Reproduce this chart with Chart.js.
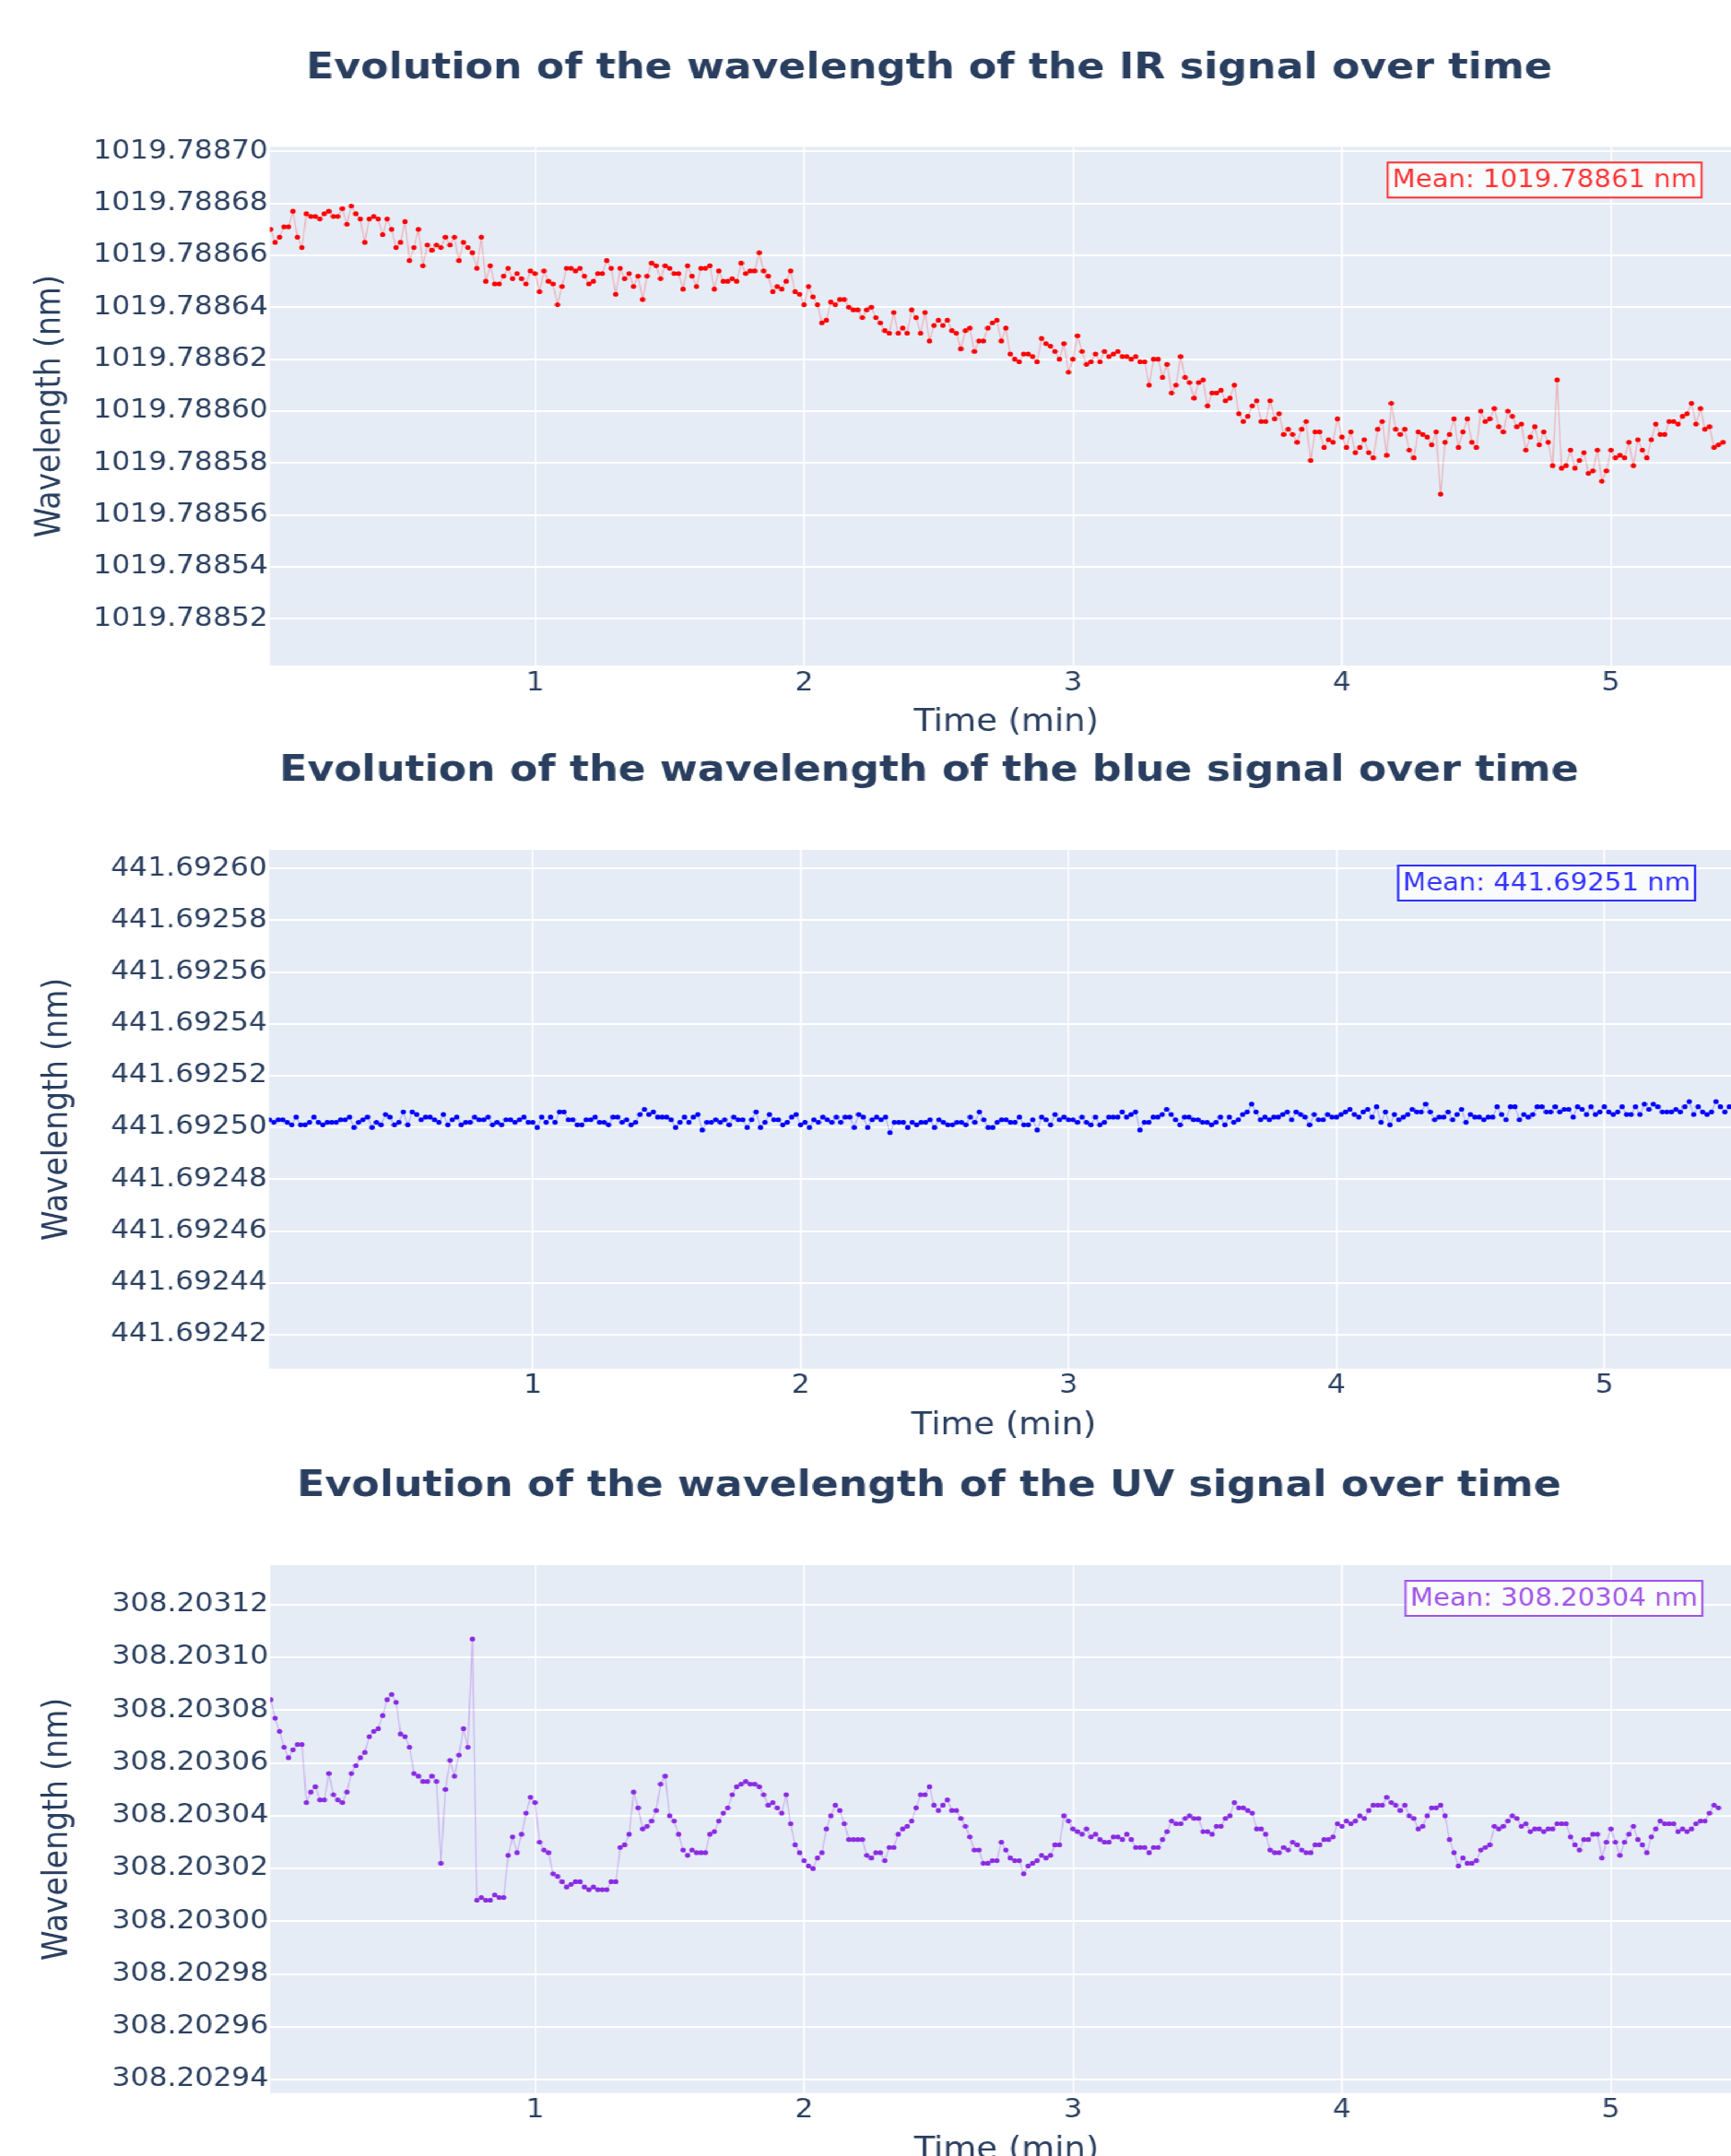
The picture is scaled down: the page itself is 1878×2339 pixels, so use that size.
<!DOCTYPE html>
<html>
<head>
<meta charset="utf-8">
<script src="https://cdn.jsdelivr.net/npm/chart.js@4.4.1/dist/chart.umd.min.js"></script>
<style>
  html, body { margin: 0; padding: 0; background: #fff; width: 1878px; height: 2339px; overflow: hidden; }
  #wrap { position: absolute; left: 0; top: 0; width: 1800px; height: 2400px; transform: scaleX(1.12); transform-origin: 0 0; }
  canvas { position: absolute; left: 0; }
</style>
</head>
<body>
<div id="wrap">
  <canvas id="irChart" width="1800" height="820" style="top:0px"></canvas>
  <canvas id="blueChart" width="1800" height="800" style="top:790px"></canvas>
  <canvas id="uvChart" width="1800" height="800" style="top:1560px"></canvas>
</div>
<script>
// one sample per second, time axis in minutes
var SAMPLE_MIN = 1 / 60
var xTickValues = [1, 2, 3, 4, 5]

var irValues = [
  1019.78867, 1019.788665, 1019.788667, 1019.788671, 1019.788671, 1019.788677, 1019.788667, 1019.788663, 1019.788676, 1019.788675,
  1019.788675, 1019.788674, 1019.788676, 1019.788677, 1019.788675, 1019.788675, 1019.788678, 1019.788672, 1019.788679, 1019.788676,
  1019.788674, 1019.788665, 1019.788674, 1019.788675, 1019.788674, 1019.788668, 1019.788674, 1019.78867, 1019.788663, 1019.788665,
  1019.788673, 1019.788658, 1019.788663, 1019.78867, 1019.788656, 1019.788664, 1019.788662, 1019.788664, 1019.788663, 1019.788667,
  1019.788664, 1019.788667, 1019.788658, 1019.788665, 1019.788663, 1019.788661, 1019.788655, 1019.788667, 1019.78865, 1019.788656,
  1019.788649, 1019.788649, 1019.788652, 1019.788655, 1019.788651, 1019.788653, 1019.788651, 1019.788649, 1019.788654, 1019.788653,
  1019.788646, 1019.788654, 1019.78865, 1019.788649, 1019.788641, 1019.788648, 1019.788655, 1019.788655, 1019.788654, 1019.788655,
  1019.788652, 1019.788649, 1019.78865, 1019.788653, 1019.788653, 1019.788658, 1019.788655, 1019.788645, 1019.788655, 1019.788651,
  1019.788653, 1019.788648, 1019.788652, 1019.788643, 1019.788652, 1019.788657, 1019.788656, 1019.788651, 1019.788656, 1019.788655,
  1019.788653, 1019.788653, 1019.788647, 1019.788656, 1019.788652, 1019.788648, 1019.788655, 1019.788655, 1019.788656, 1019.788647,
  1019.788654, 1019.78865, 1019.78865, 1019.788651, 1019.78865, 1019.788657, 1019.788653, 1019.788654, 1019.788654, 1019.788661,
  1019.788654, 1019.788652, 1019.788646, 1019.788648, 1019.788647, 1019.78865, 1019.788654, 1019.788646, 1019.788645, 1019.788641,
  1019.788648, 1019.788644, 1019.788641, 1019.788634, 1019.788635, 1019.788642, 1019.788641, 1019.788643, 1019.788643, 1019.78864,
  1019.788639, 1019.788639, 1019.788636, 1019.788639, 1019.78864, 1019.788636, 1019.788634, 1019.788631, 1019.78863, 1019.788638,
  1019.78863, 1019.788632, 1019.78863, 1019.788639, 1019.788636, 1019.78863, 1019.788638, 1019.788627, 1019.788633, 1019.788635,
  1019.788633, 1019.788635, 1019.788631, 1019.78863, 1019.788624, 1019.788631, 1019.788632, 1019.788623, 1019.788627, 1019.788627,
  1019.788632,
  1019.788634, 1019.788635, 1019.788627, 1019.788632, 1019.788622, 1019.78862, 1019.788619, 1019.788622, 1019.788622, 1019.788621,
  1019.788619, 1019.788628, 1019.788626, 1019.788625, 1019.788623, 1019.78862, 1019.788626, 1019.788615, 1019.78862, 1019.788629,
  1019.788623, 1019.788618, 1019.788619, 1019.788622, 1019.788619, 1019.788623, 1019.788621, 1019.788622, 1019.788623, 1019.788621,
  1019.788621, 1019.78862, 1019.788621, 1019.788619, 1019.788619, 1019.78861, 1019.78862, 1019.78862, 1019.788613, 1019.788618,
  1019.788607, 1019.78861, 1019.788621, 1019.788613, 1019.788611, 1019.788605, 1019.788611, 1019.788612, 1019.788602, 1019.788607,
  1019.788607, 1019.788608, 1019.788604, 1019.788605, 1019.78861, 1019.788599, 1019.788596, 1019.788598, 1019.788602, 1019.788604,
  1019.788596, 1019.788596, 1019.788604, 1019.788597, 1019.788599, 1019.788591, 1019.788593, 1019.788591, 1019.788588, 1019.788593,
  1019.788596, 1019.788581, 1019.788592, 1019.788592, 1019.788586, 1019.788589, 1019.788588, 1019.788597, 1019.78859, 1019.788586,
  1019.788592, 1019.788584, 1019.788586, 1019.788589, 1019.788584, 1019.788582, 1019.788593, 1019.788596, 1019.788583, 1019.788603,
  1019.788593, 1019.788591, 1019.788593, 1019.788585, 1019.788582, 1019.788592, 1019.788591, 1019.78859, 1019.788587, 1019.788592,
  1019.788568, 1019.788588, 1019.788591, 1019.788597, 1019.788586, 1019.788592, 1019.788597, 1019.788588, 1019.788586, 1019.7886,
  1019.788596, 1019.788597, 1019.788601, 1019.788594, 1019.788592, 1019.7886, 1019.788598, 1019.788594, 1019.788595, 1019.788585,
  1019.78859, 1019.788594, 1019.788587, 1019.788592, 1019.788588, 1019.788579, 1019.788612, 1019.788578, 1019.788579, 1019.788585,
  1019.788578, 1019.788581, 1019.788584, 1019.788576, 1019.788577, 1019.788585, 1019.788573, 1019.788577, 1019.788585, 1019.788582,
  1019.788583, 1019.788582, 1019.788588, 1019.788579, 1019.788589, 1019.788585, 1019.788582, 1019.788589, 1019.788595, 1019.788591,
  1019.788591, 1019.788596, 1019.788596, 1019.788595, 1019.788598, 1019.788599, 1019.788603, 1019.788595, 1019.788601, 1019.788593,
  1019.788594, 1019.788586, 1019.788587, 1019.788588
]

var blueValues = [
  441.692503, 441.692502, 441.692503, 441.692503, 441.692502, 441.692501, 441.692504, 441.692501, 441.692501, 441.692502,
  441.692504, 441.692502, 441.692501, 441.692502, 441.692502, 441.692502, 441.692503, 441.692503, 441.692504, 441.6925,
  441.692502, 441.692503, 441.692504, 441.6925, 441.692502, 441.692501, 441.692505, 441.692504, 441.692501, 441.692502,
  441.692506, 441.692501, 441.692506, 441.692505, 441.692503, 441.692504, 441.692504, 441.692503, 441.692502, 441.692505,
  441.692501, 441.692503, 441.692504, 441.692501, 441.692502, 441.692502, 441.692504, 441.692503, 441.692503, 441.692504,
  441.692501, 441.692502, 441.692501, 441.692503, 441.692503, 441.692502, 441.692503, 441.692504, 441.692502, 441.692502,
  441.6925, 441.692504, 441.692502, 441.692504, 441.692502, 441.692506, 441.692506, 441.692503, 441.692503, 441.692501,
  441.692501, 441.692503, 441.692503, 441.692504, 441.692502, 441.692502, 441.692501, 441.692504, 441.692504, 441.692502,
  441.692503, 441.692501, 441.692502, 441.692505, 441.692507, 441.692505, 441.692506, 441.692504, 441.692504, 441.692504,
  441.692503, 441.6925, 441.692502, 441.692504, 441.692502, 441.692504, 441.692505, 441.692499, 441.692502, 441.692502,
  441.692503, 441.692502, 441.692503, 441.692501, 441.692504, 441.692503, 441.692503, 441.6925, 441.692503, 441.692506,
  441.6925, 441.692502, 441.692505, 441.692503, 441.692503, 441.692501, 441.692502, 441.692504, 441.692505, 441.692501,
  441.692502, 441.6925, 441.692503, 441.692502, 441.692504, 441.692503, 441.692502, 441.692504, 441.692502, 441.692504,
  441.692504, 441.6925, 441.692505, 441.692504, 441.6925, 441.692503, 441.692504, 441.692503, 441.692504, 441.692498,
  441.692502, 441.692502, 441.692502, 441.6925, 441.692502, 441.692501, 441.692502, 441.692502, 441.692503, 441.6925,
  441.692503, 441.692502, 441.692501, 441.692501, 441.692502, 441.692502, 441.692501, 441.692504, 441.692502, 441.692506,
  441.692503, 441.6925, 441.6925,
  441.692502, 441.692503, 441.692503, 441.692502, 441.692502, 441.692504, 441.692501, 441.692501, 441.692503, 441.692499,
  441.692504, 441.692503, 441.692501, 441.692505, 441.692503, 441.692504, 441.692503, 441.692503, 441.692502, 441.692504,
  441.692502, 441.692501, 441.692504, 441.692501, 441.692502, 441.692504, 441.692504, 441.692504, 441.692506, 441.692504,
  441.692505, 441.692506, 441.692499, 441.692502, 441.692502, 441.692504, 441.692504, 441.692505, 441.692507, 441.692505,
  441.692503, 441.692501, 441.692504, 441.692504, 441.692503, 441.692503, 441.692502, 441.692502, 441.692501, 441.692502,
  441.692504, 441.692501, 441.692504, 441.692502, 441.692503, 441.692505, 441.692506, 441.692509, 441.692506, 441.692503,
  441.692504, 441.692503, 441.692504, 441.692504, 441.692505, 441.692506, 441.692503, 441.692506, 441.692505, 441.692504,
  441.692501, 441.692505, 441.692503, 441.692503, 441.692505, 441.692504, 441.692504, 441.692505, 441.692506, 441.692507,
  441.692505, 441.692504, 441.692506, 441.692507, 441.692504, 441.692508, 441.692502, 441.692506, 441.692501, 441.692505,
  441.692503, 441.692504, 441.692505, 441.692507, 441.692506, 441.692506, 441.692509, 441.692506, 441.692503, 441.692504,
  441.692504, 441.692506, 441.692503, 441.692505, 441.692507, 441.692502, 441.692505, 441.692504, 441.692504, 441.692503,
  441.692504, 441.692504, 441.692508, 441.692505, 441.692503, 441.692508, 441.692508, 441.692503, 441.692505, 441.692504,
  441.692505, 441.692508, 441.692508, 441.692506, 441.692506, 441.692508, 441.692506, 441.692507, 441.692507, 441.692504,
  441.692508, 441.692507, 441.692505, 441.692508, 441.692505, 441.692506, 441.692508, 441.692506, 441.692505, 441.692506,
  441.692508, 441.692505, 441.692505, 441.692508, 441.692505, 441.692509, 441.692507, 441.692509, 441.692508, 441.692506,
  441.692506, 441.692506, 441.692507, 441.692506, 441.692508, 441.69251, 441.692505, 441.692508, 441.692506, 441.692505,
  441.692506, 441.69251, 441.692508, 441.692506, 441.692508
]

var uvValues = [
  308.203084, 308.203077, 308.203072, 308.203066, 308.203062, 308.203065, 308.203067, 308.203067, 308.203045, 308.203049,
  308.203051, 308.203046, 308.203046, 308.203056, 308.203048, 308.203046, 308.203045, 308.203049, 308.203056, 308.203059,
  308.203062, 308.203064, 308.20307, 308.203072, 308.203073, 308.203078, 308.203084, 308.203086, 308.203083, 308.203071,
  308.20307, 308.203066, 308.203056, 308.203055, 308.203053, 308.203053, 308.203055, 308.203053, 308.203022, 308.20305,
  308.203061, 308.203055, 308.203063, 308.203073, 308.203066, 308.203107, 308.203008, 308.203009, 308.203008, 308.203008,
  308.20301, 308.203009, 308.203009, 308.203025, 308.203032, 308.203026, 308.203033, 308.203041, 308.203047, 308.203045,
  308.20303, 308.203027, 308.203026, 308.203018, 308.203017, 308.203015, 308.203013, 308.203014, 308.203015, 308.203015,
  308.203013, 308.203012, 308.203013, 308.203012, 308.203012, 308.203012, 308.203015, 308.203015, 308.203028, 308.203029,
  308.203033, 308.203049, 308.203043, 308.203035, 308.203036, 308.203038, 308.203042, 308.203052, 308.203055, 308.20304,
  308.203038, 308.203033, 308.203027, 308.203025, 308.203027, 308.203026, 308.203026, 308.203026, 308.203033, 308.203034,
  308.203038, 308.203041, 308.203043, 308.203048, 308.203051, 308.203052, 308.203053, 308.203052, 308.203052, 308.203051,
  308.203048, 308.203044, 308.203045, 308.203043, 308.203041, 308.203048, 308.203037, 308.203029, 308.203026, 308.203023,
  308.203021, 308.20302, 308.203024, 308.203026, 308.203035, 308.20304, 308.203044, 308.203042, 308.203037, 308.203031,
  308.203031, 308.203031, 308.203031, 308.203025, 308.203024, 308.203026, 308.203026, 308.203023, 308.203028, 308.203028,
  308.203033, 308.203035, 308.203036, 308.203038, 308.203043, 308.203048, 308.203048, 308.203051, 308.203044, 308.203042,
  308.203044, 308.203046, 308.203042, 308.203042, 308.203039, 308.203036, 308.203032, 308.203027, 308.203027, 308.203022,
  308.203022,
  308.203023, 308.203023, 308.20303, 308.203027, 308.203024, 308.203023, 308.203023, 308.203018, 308.203021, 308.203022,
  308.203023, 308.203025, 308.203024, 308.203025, 308.203029, 308.203029, 308.20304, 308.203038, 308.203035, 308.203034,
  308.203033, 308.203035, 308.203032, 308.203033, 308.203031, 308.20303, 308.20303, 308.203032, 308.203032, 308.203031,
  308.203033, 308.203031, 308.203028, 308.203028, 308.203028, 308.203026, 308.203028, 308.203028, 308.203031, 308.203034,
  308.203038, 308.203037, 308.203037, 308.203039, 308.20304, 308.203039, 308.203039, 308.203034, 308.203034, 308.203033,
  308.203036, 308.203036, 308.203039, 308.20304, 308.203045, 308.203043, 308.203043, 308.203042, 308.203041, 308.203035,
  308.203035, 308.203033, 308.203027, 308.203026, 308.203026, 308.203028, 308.203027, 308.20303, 308.203029, 308.203027,
  308.203026, 308.203026, 308.203029, 308.203029, 308.203031, 308.203031, 308.203032, 308.203037, 308.203036, 308.203038,
  308.203037, 308.203038, 308.20304, 308.203039, 308.203042, 308.203044, 308.203044, 308.203044, 308.203047, 308.203045,
  308.203044, 308.203042, 308.203044, 308.20304, 308.203039, 308.203035, 308.203036, 308.20304, 308.203043, 308.203043,
  308.203044, 308.20304, 308.203031, 308.203026, 308.203021, 308.203024, 308.203022, 308.203022, 308.203023, 308.203027,
  308.203028, 308.203029, 308.203036, 308.203035, 308.203036, 308.203038, 308.20304, 308.203039, 308.203036, 308.203037,
  308.203034, 308.203035, 308.203035, 308.203034, 308.203035, 308.203035, 308.203037, 308.203037, 308.203037, 308.203032,
  308.203029, 308.203027, 308.203031, 308.203031, 308.203033, 308.203033, 308.203024, 308.20303, 308.203035, 308.20303,
  308.203025, 308.20303, 308.203033, 308.203036, 308.203031, 308.203029, 308.203026, 308.203032, 308.203035, 308.203038,
  308.203037, 308.203037, 308.203037, 308.203034, 308.203035, 308.203034, 308.203035, 308.203037, 308.203038, 308.203038,
  308.203041, 308.203044, 308.203043
]

var irYTicks = [1019.78852, 1019.78854, 1019.78856, 1019.78858, 1019.7886, 1019.78862, 1019.78864, 1019.78866, 1019.78868, 1019.7887]
var blueYTicks = [441.69242, 441.69244, 441.69246, 441.69248, 441.6925, 441.69252, 441.69254, 441.69256, 441.69258, 441.6926]
var uvYTicks = [308.20294, 308.20296, 308.20298, 308.203, 308.20302, 308.20304, 308.20306, 308.20308, 308.2031, 308.20312]

var irMean = 1019.78861
var blueMean = 441.69251
var uvMean = 308.20304

var INK = '#2a3f5f'
Chart.defaults.font.family = '"DejaVu Sans", Verdana, sans-serif'

var plotBg = {
  id: 'plotBg',
  beforeDraw: function (chart) {
    var a = chart.chartArea, ctx = chart.ctx
    ctx.save()
    ctx.fillStyle = '#E5ECF6'
    ctx.fillRect(a.left, a.top, a.right - a.left, a.bottom - a.top)
    ctx.restore()
  }
}

var meanBox = {
  id: 'meanBox',
  afterDatasetsDraw: function (chart, args, opts) {
    var a = chart.chartArea, ctx = chart.ctx
    ctx.save()
    ctx.font = '26px "DejaVu Sans", Verdana, sans-serif'
    var w = ctx.measureText(opts.text).width + 9
    var h = 38
    var x = a.right - opts.gap - w
    var y = a.top + 17
    ctx.fillStyle = 'rgba(255,255,255,0.8)'
    ctx.fillRect(x, y, w, h)
    ctx.strokeStyle = opts.color
    ctx.lineWidth = 2
    ctx.strokeRect(x, y, w, h)
    ctx.fillStyle = opts.color
    ctx.textAlign = 'left'
    ctx.textBaseline = 'middle'
    ctx.fillText(opts.text, x + 4.5, y + h / 2 + 1)
    ctx.restore()
  }
}

function drawPanel(id, cfg) {
  var canvas = document.getElementById(id)
  var H = canvas.height
  var points = cfg.values.map(function (v, i) { return { x: (i + 1) * SAMPLE_MIN, y: v } })
  return new Chart(canvas, {
    type: 'line',
    data: {
      datasets: [{
        data: points,
        borderColor: cfg.line,
        borderWidth: 1.2,
        pointRadius: 2.6,
        pointHoverRadius: 2.6,
        pointBackgroundColor: cfg.marker,
        pointBorderWidth: 0,
        tension: 0,
        fill: false
      }]
    },
    options: {
      responsive: false,
      animation: false,
      devicePixelRatio: 1,
      layout: { padding: 0 },
      plugins: {
        legend: { display: false },
        tooltip: { enabled: false },
        title: {
          display: true,
          text: cfg.title,
          color: INK,
          font: { size: 39.5, weight: 'bold' },
          padding: { top: cfg.titleMid - 23.7, bottom: cfg.plotTop - cfg.titleMid - 23.7 }
        },
        meanBox: { text: 'Mean: ' + cfg.mean.toFixed(5) + ' nm', color: cfg.box, gap: cfg.boxGap }
      },
      scales: {
        x: {
          type: 'linear',
          min: cfg.xMin,
          max: cfg.xMax,
          afterBuildTicks: function (s) { s.ticks = xTickValues.map(function (v) { return { value: v } }) },
          afterFit: function (s) { s.height = H - cfg.plotBottom },
          grid: { color: '#ffffff', lineWidth: 1.6, drawTicks: false },
          border: { display: false },
          ticks: { color: INK, padding: 2.5, font: { size: 28 }, maxRotation: 0, autoSkip: false },
          title: { display: true, text: 'Time (min)', color: INK, font: { size: 33 }, padding: { top: 0, bottom: H - cfg.xTitleMid - 19.8 } }
        },
        y: {
          type: 'linear',
          min: cfg.yMin,
          max: cfg.yMax,
          afterBuildTicks: function (s) { s.ticks = cfg.yTicks.map(function (v) { return { value: v } }) },
          afterFit: function (s) { s.width = cfg.plotLeft },
          grid: { color: '#ffffff', lineWidth: 2, drawTicks: false },
          border: { display: false },
          ticks: { color: INK, padding: 2, font: { size: 28 }, callback: function (v) { return v.toFixed(5) } },
          title: { display: true, text: 'Wavelength (nm)', color: INK, font: { size: 33 }, padding: { top: cfg.yTitleMid - 19.8, bottom: 0 } }
        },
        // empty right margin: the plot stops before the figure edge, title stays centred on the figure
        margin: {
          type: 'linear',
          position: 'right',
          display: true,
          afterFit: function (s) { s.width = 1800 - cfg.plotRight },
          grid: { display: false },
          border: { display: false },
          ticks: { display: false },
          title: { display: false }
        }
      }
    },
    plugins: [plotBg, meanBox]
  })
}

drawPanel('irChart', {
  title: 'Evolution of the wavelength of the IR signal over time',
  values: irValues, yTicks: irYTicks, mean: irMean,
  marker: '#ff0000', line: 'rgba(255,0,0,0.25)', box: 'rgba(255,0,0,0.8)', boxGap: 39.7,
  yMin: 1019.788502, yMax: 1019.7887018, xMin: 0.0147, xMax: 5.4895,
  titleMid: 75, plotTop: 159.3, plotBottom: 722, xTitleMid: 784.6, plotLeft: 261.6, plotRight: 1688, yTitleMid: 49
})

drawPanel('blueChart', {
  title: 'Evolution of the wavelength of the blue signal over time',
  values: blueValues, yTicks: blueYTicks, mean: blueMean,
  marker: '#0000ff', line: 'rgba(0,0,255,0.25)', box: 'rgba(0,0,255,0.8)', boxGap: 42,
  yMin: 441.6924069, yMax: 441.6926072, xMin: 0.016, xMax: 5.5006,
  titleMid: 47, plotTop: 132, plotBottom: 694.7, xTitleMid: 757, plotLeft: 260.7, plotRight: 1684, yTitleMid: 56
})

drawPanel('uvChart', {
  title: 'Evolution of the wavelength of the UV signal over time',
  values: uvValues, yTicks: uvYTicks, mean: uvMean,
  marker: '#8a2be2', line: 'rgba(138,43,226,0.3)', box: 'rgba(138,43,226,0.8)', boxGap: 39,
  yMin: 308.2029349, yMax: 308.203135, xMin: 0.0161, xMax: 5.4895,
  titleMid: 52.6, plotTop: 138, plotBottom: 710.7, xTitleMid: 773, plotLeft: 262, plotRight: 1688, yTitleMid: 56
})
</script>
</body>
</html>
